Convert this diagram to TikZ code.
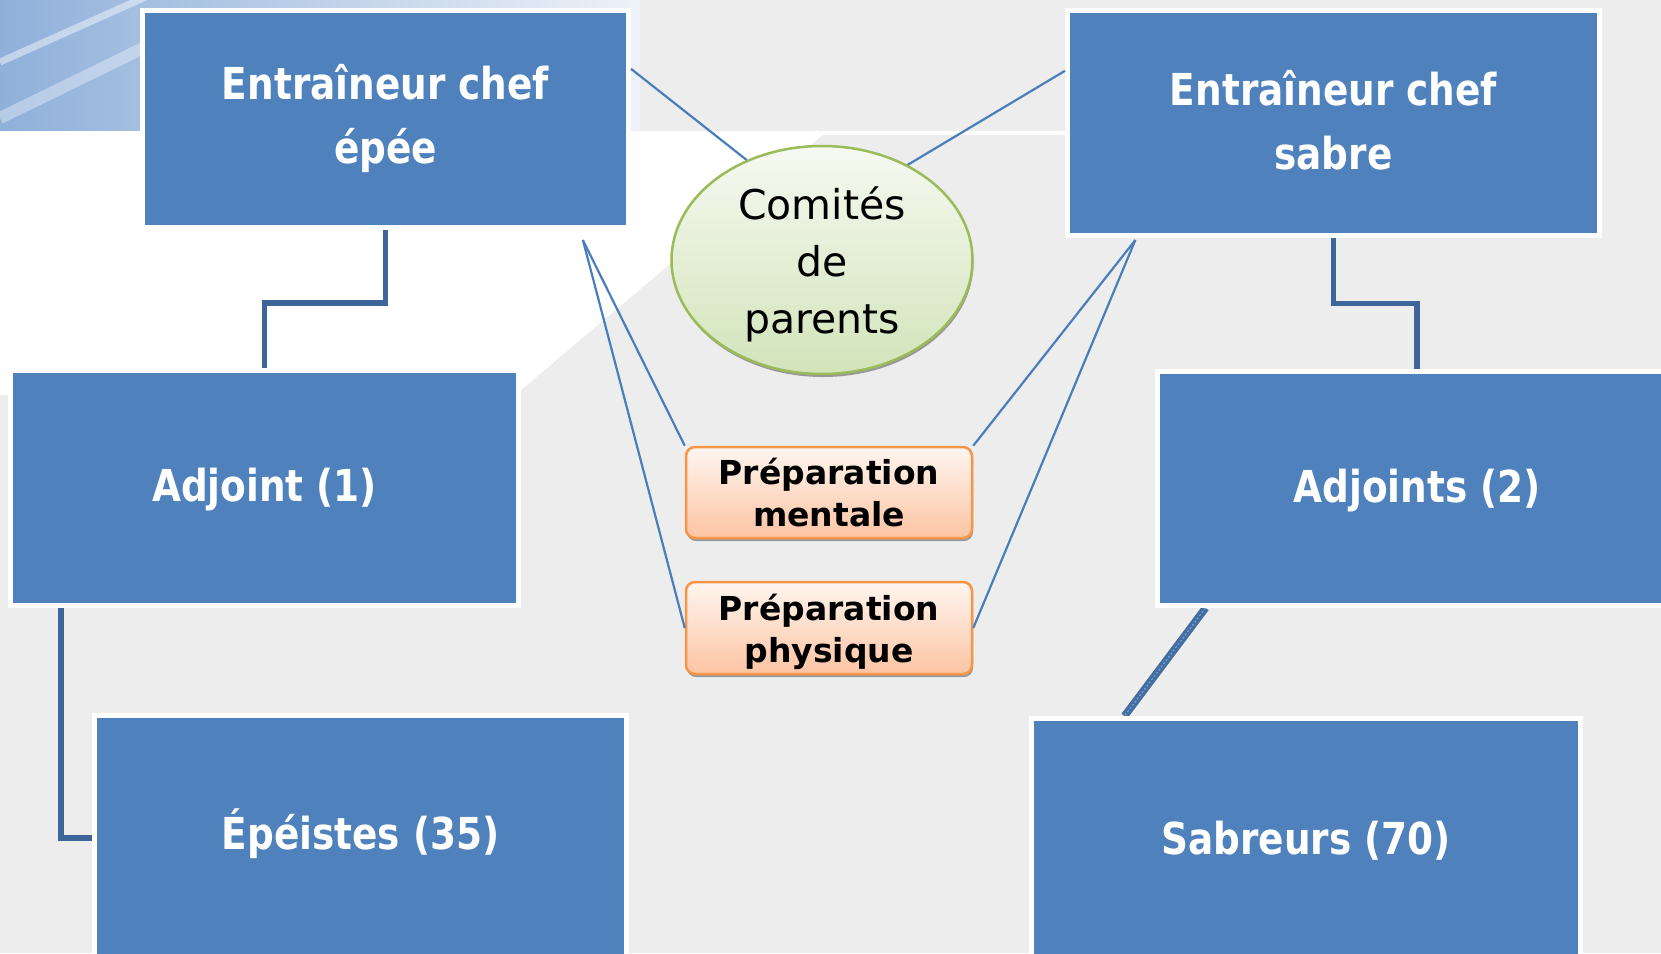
\documentclass[tikz,border=0pt]{standalone}
\usepackage{fontspec}
\newfontfamily\boxfont{DejaVu Sans}[FakeStretch=0.85]
\newfontfamily\dvsans{DejaVu Sans}
\usetikzlibrary{shapes.geometric,calc,shadows}
\definecolor{boxblue}{HTML}{4F81BD}
\definecolor{connblue}{HTML}{3D659A}
\definecolor{thinblue}{HTML}{4A7EBB}
\definecolor{bggray}{HTML}{EDEDED}
\definecolor{elbord}{HTML}{9BBB59}
\definecolor{eltop}{HTML}{F6F9F1}
\definecolor{elbot}{HTML}{D2E4BA}
\definecolor{orbord}{HTML}{F79646}
\definecolor{ortop}{HTML}{FFF5F0}
\definecolor{orbot}{HTML}{FCC4A2}
\definecolor{sky}{HTML}{8FB0DA}
\definecolor{skyr}{HTML}{EEF2F8}
\pgfdeclarelayer{back}
\pgfdeclarelayer{mid}
\pgfsetlayers{back,mid,main}
\begin{document}
\begin{tikzpicture}[x=1pt,y=-1pt,
  bluebox/.style={rectangle, fill=boxblue, draw=white, line width=5pt, text=white,
    align=center, inner sep=0pt, font=\boxfont\bfseries\fontsize{44}{64}\selectfont},
  orbox/.style={rectangle, rounded corners=9pt, top color=ortop, bottom color=orbot,
    draw=orbord, line width=2.5pt, align=center, inner sep=0pt, text depth=0pt,
    minimum width=286pt, drop shadow={shadow xshift=1pt, shadow yshift=-3pt, fill=black!55, opacity=0.7},
    font=\dvsans\bfseries\fontsize{33}{42}\selectfont},
  thin/.style={draw=thinblue, line width=2.2pt},
  thick/.style={draw=connblue, line width=5.5pt},
]
\useasboundingbox (0,0) rectangle (1661,953);
\clip (0,0) rectangle (1661,953);

% boxes
\node[bluebox, minimum width=486pt, minimum height=217pt, text depth=10pt] (A) at (385.5,119) {Entraîneur chef\\épée};
\node[bluebox, minimum width=532pt, minimum height=225pt, text depth=6pt] (B) at (1333.5,123) {Entraîneur chef\\sabre};
\node[bluebox, minimum width=508pt, minimum height=235pt, text depth=6pt] (C) at (264.5,488) {Adjoint (1)};
\node[bluebox, minimum width=519pt, minimum height=234pt, text depth=6pt] (D) at (1417,488.5) {Adjoints (2)};
\node[bluebox, minimum width=532pt, minimum height=245pt, text depth=18pt] (E) at (360.5,838) {Épéistes (35)};
\node[bluebox, minimum width=549pt, minimum height=244pt] (F) at (1306,840.5) {Sabreurs (70)};

\node[ellipse, minimum width=301pt, minimum height=228pt, inner sep=0pt,
  top color=eltop, bottom color=elbot, draw=elbord, line width=2.5pt,
  drop shadow={shadow xshift=1pt, shadow yshift=-3pt, fill=black!55, opacity=0.7},
  align=center, text depth=0pt, font=\dvsans\fontsize{41}{57}\selectfont] (G) at (822,260) {Comités\\de\\parents};

\node[orbox, minimum height=91pt] (H) at (829,492.5) {Préparation\\mentale};
\node[orbox, minimum height=92pt] (I) at (829,628) {Préparation\\physique};

\coordinate (a1) at ([yshift=-10pt]$(A.south west)!0.902!(A.south east)$);
\coordinate (b1) at ([yshift=-2pt]$(B.south west)!0.131!(B.south east)$);

\begin{pgfonlayer}{back}
  \fill[bggray] (0,0) rectangle (1661,953);
  \shade[left color=sky, right color=skyr] (0,0) rectangle (640,133);
  \draw[white, opacity=0.45, line width=7pt] (0,62) -- (150,-5);
  \draw[white, opacity=0.35, line width=12pt] (0,118) -- (170,35);
  \fill[white] (0,133) -- (825,133) -- (515,395) -- (0,395) -- cycle;
  \draw[white, line width=4pt] (0,133) -- (1068,133);
\end{pgfonlayer}

\begin{pgfonlayer}{mid}
  \draw[thick] (A.south) |- ($(A.south)!0.53!(C.north)$) -| (C.north);
  \draw[thick] (B.south) |- ($(B.south)!0.5!(D.north)$) -| (D.north);
  \draw[thick] ([xshift=53pt]C.south west) |- (E.west);
  \draw[draw=boxblue!85!black, line width=7.5pt] ([xshift=50.5pt]D.south west) -- ([xshift=95.5pt]F.north west);
  \draw[draw=boxblue!80!white, line width=1.5pt, dash pattern=on 2pt off 2pt] ([xshift=50.5pt]D.south west) -- ([xshift=95.5pt]F.north west);
\end{pgfonlayer}

% thin connectors
\draw[thin] ($(A.north east)!0.274!(A.south east)$) -- (G.127);
\draw[thin] ($(B.north west)!0.273!(B.south west)$) -- (G.48);
\draw[thin] (a1) -- (H.north west);
\draw[thin] (a1) -- (I.west);
\draw[thin] (b1) -- (H.north east);
\draw[thin] (b1) -- (I.east);
\end{tikzpicture}
\end{document}
